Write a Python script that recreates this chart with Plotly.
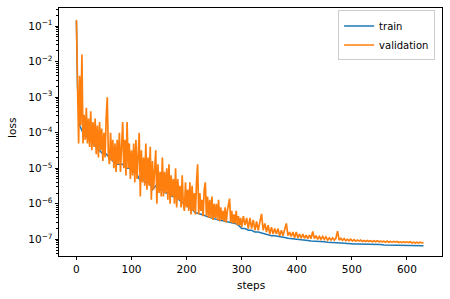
import plotly.graph_objects as go

# validation loss: every 2 steps up to 298, every 3 steps from 300 to 630
val_steps = list(range(0, 300, 2)) + list(range(300, 631, 3))
val_loss = [
    # steps 0..298 (every 2)
    1.5e-1, 2.0e-3, 5.0e-5, 4.0e-3, 1.6e-4, 1.6e-2, 5.0e-5, 3.2e-4, 6.3e-5, 5.0e-4,
    5.0e-5, 2.5e-4, 4.0e-5, 4.0e-4, 3.2e-5, 2.0e-4, 4.0e-5, 2.5e-4, 2.5e-5, 1.6e-4,
    2.0e-5, 2.0e-4, 3.2e-5, 1.3e-4, 1.6e-5, 1.0e-4, 2.0e-5, 2.5e-4, 1.0e-3, 2.5e-5,
    1.3e-5, 1.0e-4, 1.6e-5, 6.3e-5, 1.0e-5, 5.0e-5, 7.9e-6, 6.3e-5, 1.3e-5, 1.0e-4,
    7.9e-6, 4.0e-5, 2.0e-4, 1.0e-5, 6.3e-5, 6.3e-6, 2.0e-4, 1.0e-5, 5.0e-5, 5.0e-6,
    3.2e-5, 6.3e-6, 5.0e-5, 4.0e-6, 6.3e-5, 5.0e-6, 2.5e-5, 1.0e-4, 1.6e-6, 3.2e-5,
    4.0e-6, 2.0e-5, 3.2e-6, 5.0e-5, 2.5e-6, 2.0e-5, 3.2e-6, 4.0e-5, 1.3e-6, 1.6e-5,
    2.5e-6, 1.0e-5, 3.2e-5, 1.0e-6, 1.3e-5, 2.0e-6, 7.9e-6, 1.6e-6, 2.0e-5, 1.6e-6,
    7.9e-6, 2.0e-6, 1.0e-5, 1.3e-6, 1.3e-5, 1.0e-6, 6.3e-6, 1.6e-6, 5.0e-6, 1.0e-6,
    1.0e-5, 7.9e-7, 5.0e-6, 1.3e-6, 3.2e-6, 7.9e-7, 6.3e-6, 1.0e-6, 6.3e-7, 4.0e-6,
    7.9e-7, 2.5e-6, 6.3e-7, 4.0e-6, 5.0e-7, 3.2e-6, 6.3e-7, 2.0e-6, 5.0e-7, 4.0e-6,
    1.3e-5, 5.0e-7, 2.0e-6, 6.3e-7, 1.3e-6, 4.5e-7, 2.5e-6, 4.0e-6, 4.5e-7, 1.6e-6,
    4.0e-7, 1.3e-6, 4.0e-7, 1.6e-6, 3.5e-7, 1.0e-6, 4.0e-7, 1.0e-6, 3.5e-7, 1.3e-6,
    3.2e-7, 7.9e-7, 3.5e-7, 6.3e-7, 3.2e-7, 7.9e-7, 3.0e-7, 6.3e-7, 1.0e-6, 1.4e-6,
    3.0e-7, 6.3e-7, 2.8e-7, 5.0e-7, 2.8e-7, 6.3e-7, 2.5e-7, 4.5e-7, 2.5e-7, 4.0e-7,
    # steps 300..630 (every 3)
    2.2e-7, 4.5e-7, 2.5e-7, 4.0e-7, 2.0e-7, 4.0e-7, 2.0e-7, 3.5e-7, 1.8e-7, 3.2e-7,
    1.8e-7, 3.2e-7, 5.2e-7, 1.8e-7, 2.8e-7, 1.6e-7, 2.5e-7, 1.4e-7, 2.2e-7, 1.4e-7,
    2.0e-7, 1.4e-7, 2.0e-7, 1.26e-7, 1.8e-7, 1.26e-7, 1.8e-7, 2.8e-7, 1.26e-7, 1.6e-7,
    1.2e-7, 1.6e-7, 1.1e-7, 1.6e-7, 1.1e-7, 1.4e-7, 1.07e-7, 1.4e-7, 1.07e-7, 1.3e-7,
    1.05e-7, 1.3e-7, 1.05e-7, 1.65e-7, 1.05e-7, 1.26e-7, 1.0e-7, 1.2e-7, 1.0e-7, 1.2e-7,
    1.0e-7, 1.17e-7, 9.5e-8, 1.1e-7, 9.5e-8, 1.1e-7, 9.5e-8, 1.07e-7, 1.7e-7, 9.5e-8,
    1.07e-7, 9.3e-8, 1.05e-7, 9.1e-8, 1.0e-7, 9.1e-8, 1.0e-7, 8.9e-8, 9.8e-8, 8.9e-8,
    9.5e-8, 8.9e-8, 9.5e-8, 8.7e-8, 9.3e-8, 8.7e-8, 9.3e-8, 8.7e-8, 9.1e-8, 8.5e-8,
    9.1e-8, 8.5e-8, 9.1e-8, 8.5e-8, 8.9e-8, 8.5e-8, 8.9e-8, 8.3e-8, 8.9e-8, 8.3e-8,
    8.7e-8, 8.3e-8, 8.7e-8, 8.3e-8, 8.7e-8, 8.1e-8, 8.5e-8, 8.1e-8, 8.5e-8, 8.1e-8,
    8.5e-8, 8.1e-8, 8.5e-8, 7.9e-8, 8.3e-8, 7.9e-8, 8.3e-8, 7.9e-8, 8.3e-8, 7.9e-8,
    8.1e-8,
]

# training loss: steps 0, 2, then every 6 steps up to 630
train_steps = [0, 2] + list(range(6, 631, 6))
train_loss = [
    1.4e-1, 2.0e-3,
    1.6e-4, 1.0e-4, 7.9e-5, 6.3e-5, 5.0e-5, 4.0e-5, 3.2e-5, 2.5e-5, 2.5e-5, 2.0e-5,
    1.6e-5, 1.3e-5, 1.3e-5, 1.3e-5, 1.0e-5, 1.0e-5, 7.9e-6, 7.9e-6, 5.0e-6, 5.0e-6,
    4.0e-6, 4.0e-6, 2.5e-6, 3.2e-6, 2.5e-6, 2.5e-6, 2.0e-6, 2.0e-6, 1.6e-6, 1.6e-6,
    1.3e-6, 1.1e-6, 1.0e-6, 7.9e-7, 7.1e-7, 5.6e-7, 5.3e-7, 5.0e-7, 4.6e-7, 4.2e-7,
    3.9e-7, 3.8e-7, 3.5e-7, 3.4e-7, 3.2e-7, 3.1e-7, 2.9e-7, 2.8e-7, 2.5e-7,
    2.0e-7, 2.0e-7, 1.8e-7, 1.8e-7, 1.6e-7, 1.6e-7, 1.5e-7, 1.4e-7, 1.35e-7, 1.26e-7,
    1.26e-7, 1.2e-7, 1.12e-7, 1.12e-7, 1.07e-7, 1.05e-7, 1.0e-7, 1.0e-7, 9.5e-8, 9.3e-8,
    9.3e-8, 8.9e-8, 8.9e-8, 8.7e-8, 8.5e-8, 8.5e-8, 8.3e-8, 8.1e-8, 8.1e-8, 7.9e-8,
    7.9e-8, 7.8e-8, 7.6e-8, 7.6e-8, 7.4e-8, 7.4e-8, 7.4e-8, 7.2e-8, 7.2e-8, 7.2e-8,
    7.1e-8, 7.1e-8, 7.1e-8, 6.9e-8, 6.9e-8, 6.9e-8, 6.9e-8, 6.8e-8, 6.8e-8, 6.8e-8,
    6.8e-8, 6.6e-8, 6.6e-8, 6.6e-8, 6.6e-8, 6.6e-8,
]

x_tickvals = [0, 100, 200, 300, 400, 500, 600]
y_tickvals = [1e-7, 1e-6, 1e-5, 1e-4, 1e-3, 1e-2, 1e-1]
y_ticktext = ["10<sup>\u22127</sup>", "10<sup>\u22126</sup>", "10<sup>\u22125</sup>",
              "10<sup>\u22124</sup>", "10<sup>\u22123</sup>", "10<sup>\u22122</sup>",
              "10<sup>\u22121</sup>"]
y_minor = [m * 10.0 ** e for e in range(-8, 0) for m in range(2, 10)]

font = dict(family="DejaVu Sans", size=10.5, color="black")
legend_font = dict(family="DejaVu Sans", size=10, color="black")

fig = go.Figure()
fig.add_trace(go.Scatter(x=train_steps, y=train_loss, mode="lines", name="train",
                         line=dict(color="#1f77b4", width=1.5)))
fig.add_trace(go.Scatter(x=val_steps, y=val_loss, mode="lines", name="validation",
                         line=dict(color="#ff7f0e", width=1.7)))

fig.update_layout(
    width=450, height=299,
    margin=dict(l=59, r=8, t=8, b=43),
    paper_bgcolor="white", plot_bgcolor="white",
    font=font,
    showlegend=True,
    legend=dict(x=0.982, y=0.99, xanchor="right", yanchor="top",
                bgcolor="rgba(255,255,255,0.8)", bordercolor="#cccccc", borderwidth=1,
                font=legend_font, itemwidth=30, tracegroupgap=0),
    xaxis=dict(range=[-31.6, 663.6], tickvals=x_tickvals, ticks="outside", ticklen=3.5,
               tickcolor="black", tickwidth=0.8, showline=True, linecolor="black",
               linewidth=0.8, mirror=True, showgrid=False, zeroline=False,
               automargin=False),
    yaxis=dict(type="log", range=[-7.47, -0.49], tickvals=y_tickvals, ticktext=y_ticktext,
               ticks="outside", ticklen=3.5, tickcolor="black", tickwidth=0.8,
               showline=True, linecolor="black", linewidth=0.8, mirror=True,
               showgrid=False, zeroline=False, automargin=False,
               minor=dict(tickvals=y_minor, ticks="outside", ticklen=2,
                          tickcolor="black", tickwidth=0.6, showgrid=False)),
    annotations=[
        dict(text="steps", xref="paper", yref="paper", x=0.5, y=-0.117,
             xanchor="center", yanchor="middle", showarrow=False, font=font),
        dict(text="loss", xref="paper", yref="paper", x=-0.123, y=0.516,
             xanchor="center", yanchor="middle", textangle=-90, showarrow=False,
             font=font),
    ],
)

fig.write_html("out.html", config={"displayModeBar": False},
               post_script="document.body.style.margin='0';")
